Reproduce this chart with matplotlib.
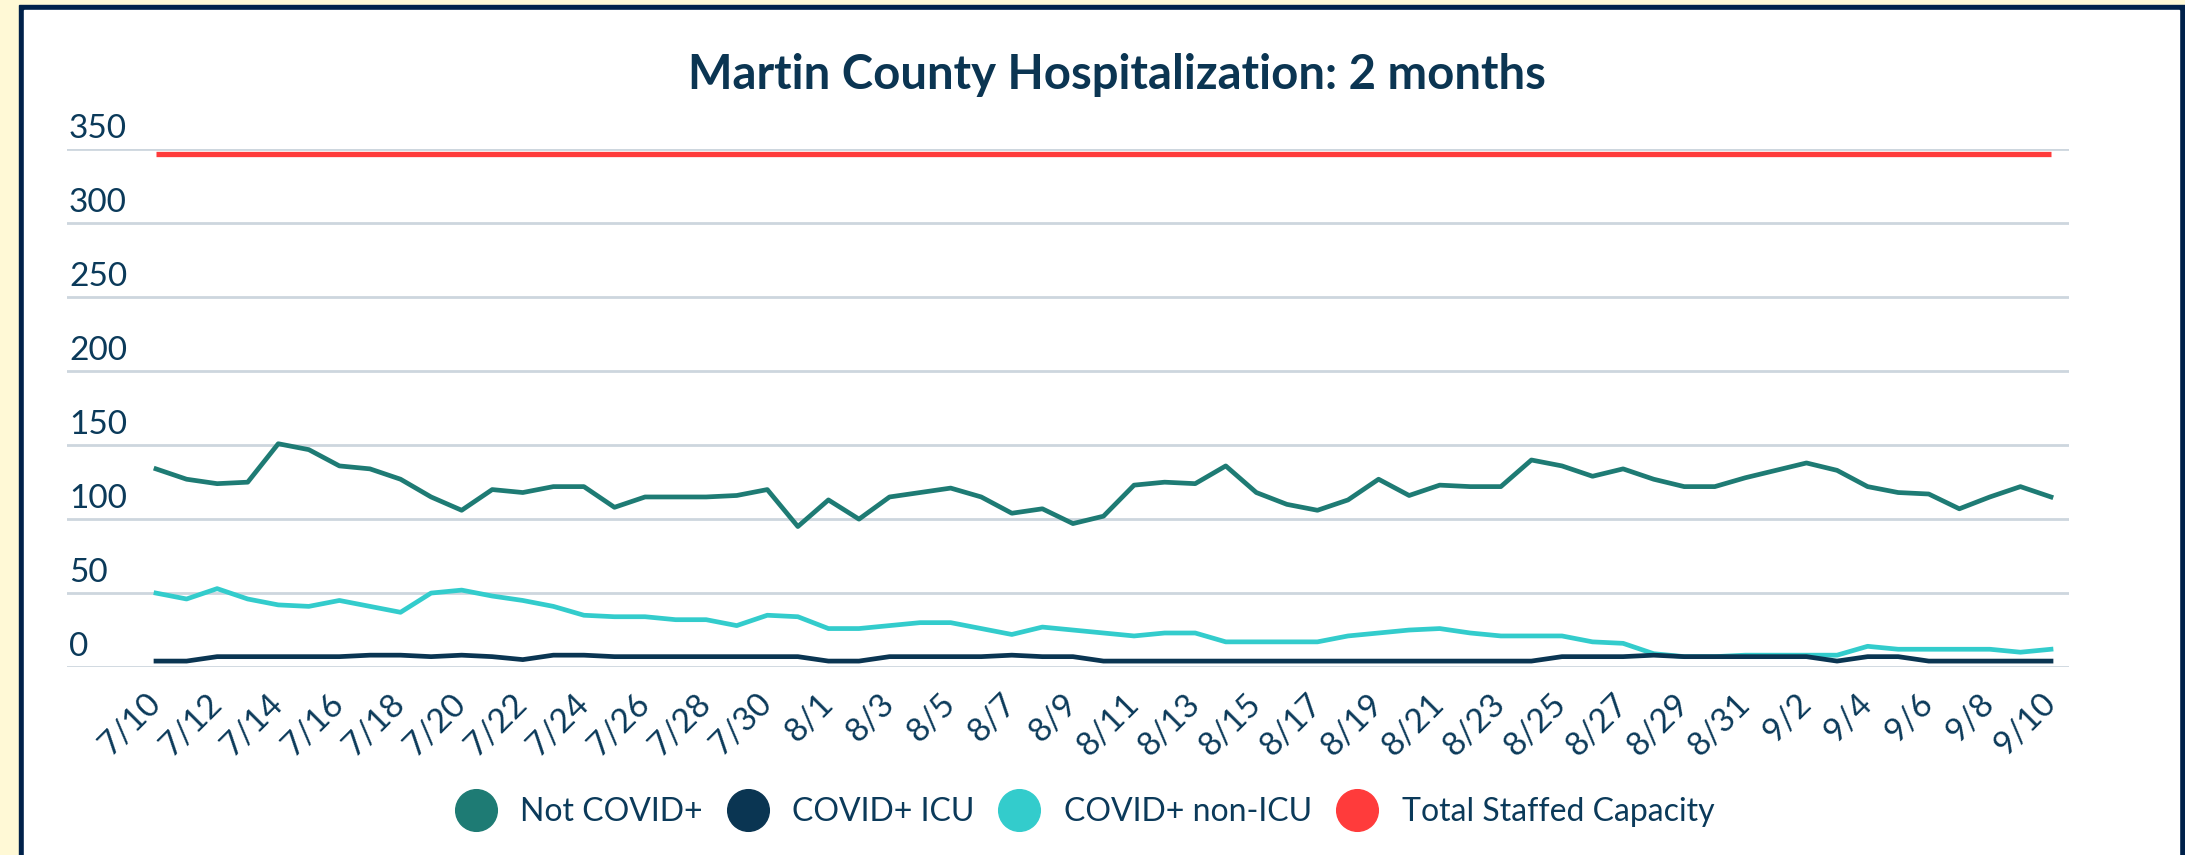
import matplotlib
matplotlib.use("Agg")
import matplotlib.pyplot as plt
import matplotlib.transforms as mtransforms
from matplotlib.patches import Rectangle
from matplotlib.lines import Line2D

days = ["7/10", "7/11", "7/12", "7/13", "7/14", "7/15", "7/16", "7/17", "7/18", "7/19",
        "7/20", "7/21", "7/22", "7/23", "7/24", "7/25", "7/26", "7/27", "7/28", "7/29",
        "7/30", "7/31", "8/1", "8/2", "8/3", "8/4", "8/5", "8/6", "8/7", "8/8",
        "8/9", "8/10", "8/11", "8/12", "8/13", "8/14", "8/15", "8/16", "8/17", "8/18",
        "8/19", "8/20", "8/21", "8/22", "8/23", "8/24", "8/25", "8/26", "8/27", "8/28",
        "8/29", "8/30", "8/31", "9/1", "9/2", "9/3", "9/4", "9/5", "9/6", "9/7",
        "9/8", "9/9", "9/10"]

not_covid = [134, 127, 124, 125, 151, 147, 136, 134, 127, 115, 106, 120, 118, 122, 122,
             108, 115, 115, 115, 116, 120, 95, 113, 100, 115, 118, 121, 115, 104, 107,
             97, 102, 123, 125, 124, 136, 118, 110, 106, 113, 127, 116, 123, 122, 122,
             140, 136, 129, 134, 127, 122, 122, 128, 133, 138, 133, 122, 118, 117, 107,
             115, 122, 115]
covid_icu = [4, 4, 7, 7, 7, 7, 7, 8, 8, 7, 8, 7, 5, 8, 8, 7, 7, 7, 7, 7, 7, 7, 4, 4,
             7, 7, 7, 7, 8, 7, 7, 4, 4, 4, 4, 4, 4, 4, 4, 4, 4, 4, 4, 4, 4, 4, 7, 7, 7,
             8, 7, 7, 7, 7, 7, 4, 7, 7, 4, 4, 4, 4, 4]
covid_non_icu = [50, 46, 53, 46, 42, 41, 45, 41, 37, 50, 52, 48, 45, 41, 35, 34, 34, 32,
                 32, 28, 35, 34, 26, 26, 28, 30, 30, 26, 22, 27, 25, 23, 21, 23, 23, 17,
                 17, 17, 17, 21, 23, 25, 26, 23, 21, 21, 21, 17, 16, 9, 7, 7, 8, 8, 8, 8,
                 14, 12, 12, 12, 12, 10, 12]
capacity = 347

yticks = [0, 50, 100, 150, 200, 250, 300, 350]
series_names = ["Not COVID+", "COVID+ ICU", "COVID+ non-ICU", "Total Staffed Capacity"]
colors = ["#1e7b74", "#0a3552", "#33cccc", "#ff3b3b"]
txt = "#0b3a5a"

plt.rcParams['font.family'] = ['Lato', 'DejaVu Sans']

W, H = 2185, 855
fig = plt.figure(figsize=(W / 100, H / 100), dpi=100)
fig.patch.set_facecolor("#fff9d6")

# navy frame + white card, behind everything
fig.patches.append(Rectangle((19 / W, 0), 1, 1 - 5 / H, transform=fig.transFigure,
                             color="#00214a", zorder=-10))
fig.patches.append(Rectangle((24 / W, 0), (2179 - 24) / W, 1 - 10 / H,
                             transform=fig.transFigure, color="white", zorder=-9))

ax = fig.add_axes([67 / W, 1 - 667 / H, (2069 - 67) / W, (667 - 149.5) / H])
ax.set_facecolor("none")
ax.set_zorder(1)

x = list(range(len(days)))
ax.plot(x, not_covid, color=colors[0], lw=3.4, zorder=3, clip_on=False)
ax.plot(x, covid_icu, color=colors[1], lw=3.4, zorder=4, clip_on=False)
ax.plot(x, covid_non_icu, color=colors[2], lw=3.4, zorder=3, clip_on=False)
ax.hlines(capacity, x[0], x[-1], color=colors[3], lw=3.8, zorder=3)

ax.set_xlim(-2.912, 62.589)
ax.set_ylim(0, 350)
for s in ax.spines.values():
    s.set_visible(False)

ax.set_yticks(yticks)
ax.yaxis.grid(True, color="#cdd6de", lw=2.0, zorder=0)
ax.set_axisbelow(True)
ax.tick_params(axis="y", length=0, labelleft=False)
trans = mtransforms.offset_copy(ax.get_yaxis_transform(), fig=fig, x=2, y=11, units="dots")
for v in yticks:
    ax.text(0, v, str(v), transform=trans, ha="left", va="baseline", fontsize=24, color=txt)

ax.set_xticks(x[::2], days[::2], rotation=45, ha="right", va="center",
              rotation_mode="anchor")
ax.tick_params(axis="x", length=0, pad=23, labelsize=24, labelcolor=txt)

fig.text(1117 / W, 1 - 89 / H, "Martin County Hospitalization: 2 months",
         ha="center", va="baseline", fontsize=34, fontweight="bold", color="#0b3552")

handles = [Line2D([], [], marker="o", ls="none", markersize=30, color=c) for c in colors]
fig.legend(handles, series_names, loc="center", bbox_to_anchor=(1087 / W, 1 - 812 / H),
           ncol=4, frameon=False, fontsize=23, handlelength=1.0, handletextpad=0.9,
           columnspacing=0.9, labelcolor=txt, numpoints=1)

fig.savefig("out.png", dpi=100, facecolor=fig.get_facecolor())
